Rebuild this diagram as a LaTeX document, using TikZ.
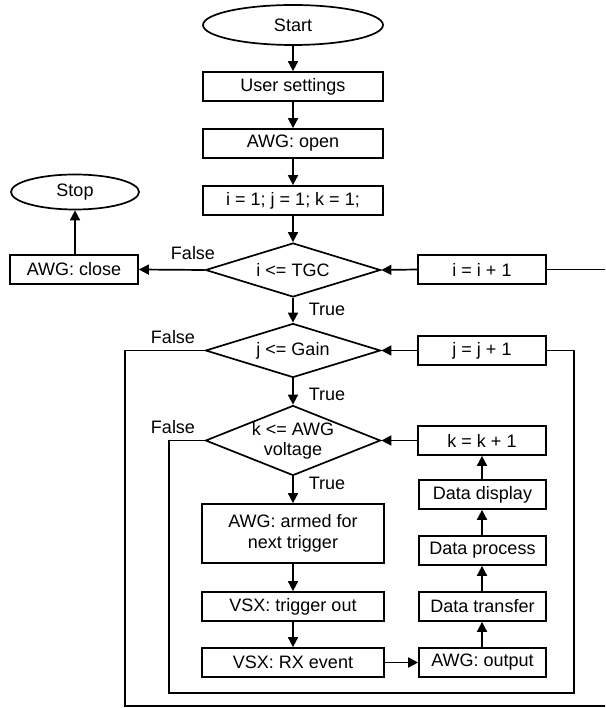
\documentclass[tikz,border=0pt]{standalone}
\usepackage{fontspec}
\setmainfont{Liberation Sans}
\usetikzlibrary{shapes.geometric,arrows.meta}
\begin{document}
\begin{tikzpicture}[x=1pt,y=-1pt,
  every node/.style={font=\fontsize{18}{21}\selectfont},
  flow/.style={line width=1.7pt},
  arr/.style={flow,-{Triangle[length=10pt,width=10pt]}},
  box/.style={draw,line width=1.7pt,inner sep=0pt,align=center,minimum height=29pt},
  term/.style={draw,ellipse,line width=1.7pt,inner sep=0pt},
  cond/.style={draw,diamond,line width=1.7pt,inner sep=0pt,align=center,
               shape aspect=3.24,minimum width=175pt,minimum height=54pt},
  lbl/.style={inner sep=0pt}
]
\useasboundingbox (0,0) rectangle (605,708);
\clip (0,0) rectangle (605,708);

% main column
\node[term,minimum width=180pt,minimum height=40pt] (start) at (293,25) {Start};
\node[box,minimum width=180pt] (user) at (293,86.5) {User settings};
\node[box,minimum width=180pt] (open) at (293,143.5) {AWG: open};
\node[box,minimum width=180pt] (init) at (293,200.5) {i = 1; j = 1; k = 1;};
\node[cond] (tgc) at (293,270) {i <= TGC};
\node[cond] (gain) at (293,350.5) {j <= Gain};
\node[cond,shape aspect=2.5,minimum height=70pt] (volt) at (293,440.5) {k <= AWG\\[-1pt]voltage};
\node[box,minimum width=182pt,minimum height=59pt] (armed) at (293,533.5) {AWG: armed for\\next trigger};
\node[box,minimum width=182pt] (trig) at (293,606.5) {VSX: trigger out};
\node[box,minimum width=182pt] (rx) at (293,662.5) {VSX: RX event};

% exit branch
\node[box,minimum width=128pt] (close) at (74,269.5) {AWG: close};
\node[term,minimum width=128pt,minimum height=35pt] (stop) at (75,192) {Stop};

% counters and data chain
\node[box,minimum width=128pt] (inci) at (482,269.5) {i = i + 1};
\node[box,minimum width=128pt] (incj) at (482,350.5) {j = j + 1};
\node[box,minimum width=128pt] (inck) at (482,440.5) {k = k + 1};
\node[box,minimum width=127pt] (disp) at (482.5,494.5) {Data display};
\node[box,minimum width=127pt] (proc) at (482.5,550.5) {Data process};
\node[box,minimum width=127pt] (xfer) at (482.5,606.5) {Data transfer};
\node[box,minimum width=127pt] (out) at (482.5,662.5) {AWG: output};

% branch labels
\node[lbl] (f1) at (193,253) {False};
\node[lbl] (f2) at (173,337) {False};
\node[lbl] (f3) at (173,427) {False};
\node[lbl] (t1) at (327,309) {True};
\node[lbl] (t2) at (327,394) {True};
\node[lbl] (t3) at (327,483) {True};

% straight connectors
\draw[arr] (start) -- (user);
\draw[arr] (user) -- (open);
\draw[arr] (open) -- (init);
\draw[arr] (init) -- (tgc);
\draw[arr] (tgc.west) -- (close.east);
\draw[arr] (close.north -| stop.south) -- (stop.south);
\draw[arr] (inci.west) -- (tgc.east);
\draw[arr] (tgc.south) -- (gain.north);
\draw[arr] (incj.west) -- (gain.east);
\draw[arr] (gain.south) -- (volt.north);
\draw[arr] (inck.west) -- (volt.east);
\draw[arr] (volt.south) -- (armed.north);
\draw[arr] (armed) -- (trig);
\draw[arr] (trig) -- (rx);
\draw[arr] (rx.east) -- (out.west);
\draw[arr] (out.north -| inck.south) -- (xfer.south -| inck.south);
\draw[arr] (xfer.north -| inck.south) -- (proc.south -| inck.south);
\draw[arr] (proc.north -| inck.south) -- (disp.south -| inck.south);
\draw[arr] (disp.north -| inck.south) -- (inck.south);

% loop-back lines
\draw[flow] (gain.west) -- (125,350.5) -- (125,706) -- (620,706) -- (620,269.5) -- (inci.east);
\draw[flow] (volt.west) -- (169,440.5) -- (169,693) -- (574,693) -- (574,350.5) -- (incj.east);
\end{tikzpicture}
\end{document}
